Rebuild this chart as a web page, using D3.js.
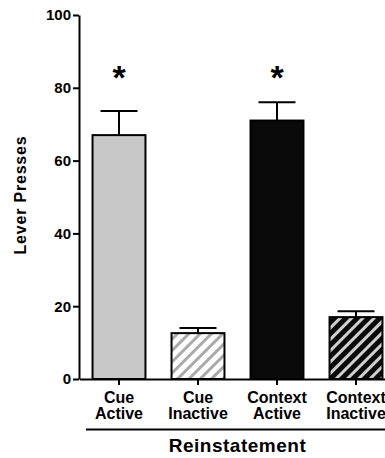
<!DOCTYPE html>
<html lang="en">
<head>
    <meta charset="UTF-8">
    <title>Reinstatement Lever Presses</title>
    <script src="https://cdnjs.cloudflare.com/ajax/libs/d3/7.8.5/d3.min.js"></script>
    <style>
        body {
            margin: 0;
            background: white;
            font-family: 'Liberation Sans', Arial, sans-serif;
        }
        .axis path, .axis line {
            stroke: black;
            stroke-width: 2;
        }
        .axis text {
            font-size: 15px;
            font-weight: bold;
            fill: black;
        }
        .bar {
            stroke: black;
            stroke-width: 2;
        }
        .err {
            stroke: black;
            stroke-width: 2;
        }
        .label {
            font-weight: bold;
            fill: black;
        }
    </style>
</head>
<body>
    <div id="chart"></div>

    <script>
        // Values
        const categories = ["Cue Active", "Cue Inactive", "Context Active", "Context Inactive"];
        const means = [67.0, 12.6, 71.0, 17.0];
        const sems = [6.6, 1.4, 5.0, 1.6];
        const significant = [true, false, true, false];
        const yTicks = [0, 20, 40, 60, 80, 100];
        const fills = ["#c8c8c8", "url(#hatchLight)", "#0a0a0a", "url(#hatchDark)"];

        const W = 385, H = 458;
        const svg = d3.select("#chart").append("svg")
            .attr("width", W)
            .attr("height", H);

        // hatch patterns
        const defs = svg.append("defs");
        function hatch(id, bg, fg) {
            const p = defs.append("pattern")
                .attr("id", id)
                .attr("patternUnits", "userSpaceOnUse")
                .attr("width", 8)
                .attr("height", 8)
                .attr("patternTransform", "rotate(45)");
            p.append("rect").attr("width", 8).attr("height", 8).attr("fill", bg);
            p.append("rect").attr("x", 0).attr("width", 3).attr("height", 8).attr("fill", fg);
        }
        hatch("hatchLight", "white", "#aaaaaa");
        hatch("hatchDark", "#0a0a0a", "#d0d0d0");

        const y = d3.scaleLinear().domain([0, 100]).range([379, 15]);
        const x = d3.scaleBand()
            .domain(categories)
            .range([79.5, 395.5])
            .paddingInner(0.33)
            .paddingOuter(0.165);

        // bars
        svg.selectAll(".bar")
            .data(categories)
            .enter()
            .append("rect")
            .attr("class", "bar")
            .attr("x", d => x(d))
            .attr("y", (d, i) => y(means[i]))
            .attr("width", x.bandwidth())
            .attr("height", (d, i) => y(0) - y(means[i]))
            .attr("fill", (d, i) => fills[i]);

        // error bars (upper only)
        categories.forEach((c, i) => {
            const cx = x(c) + x.bandwidth() / 2;
            svg.append("line").attr("class", "err")
                .attr("x1", cx).attr("x2", cx)
                .attr("y1", y(means[i])).attr("y2", y(means[i] + sems[i]));
            svg.append("line").attr("class", "err")
                .attr("x1", cx - 18.5).attr("x2", cx + 18.5)
                .attr("y1", y(means[i] + sems[i])).attr("y2", y(means[i] + sems[i]));
            if (significant[i]) {
                svg.append("text")
                    .attr("class", "label")
                    .attr("x", cx)
                    .attr("y", y(85) + 19)
                    .attr("text-anchor", "middle")
                    .style("font-size", "34px")
                    .text("*");
            }
        });

        // y axis
        svg.append("g")
            .attr("class", "axis")
            .attr("transform", "translate(79,0)")
            .call(d3.axisLeft(y).tickValues(yTicks).tickSize(6).tickSizeOuter(0).tickPadding(2));

        // x axis
        svg.append("g")
            .attr("class", "axis")
            .attr("transform", `translate(0,${y(0)})`)
            .call(d3.axisBottom(x).tickSize(6).tickSizeOuter(0).tickFormat(""));

        // category labels, two lines each
        categories.forEach(c => {
            const t = svg.append("text")
                .attr("class", "label")
                .attr("text-anchor", "middle")
                .style("font-size", "16px");
            c.split(" ").forEach((w, k) => {
                t.append("tspan")
                    .attr("x", x(c) + x.bandwidth() / 2)
                    .attr("y", 402.5 + k * 16.5)
                    .text(w);
            });
        });

        // group line and title
        svg.append("line")
            .attr("x1", 86).attr("x2", W)
            .attr("y1", 429.5).attr("y2", 429.5)
            .attr("stroke", "black")
            .attr("stroke-width", 2);

        svg.append("text")
            .attr("class", "label")
            .attr("x", 237.5)
            .attr("y", 452)
            .attr("text-anchor", "middle")
            .style("font-size", "19px")
            .style("letter-spacing", "0.5px")
            .text("Reinstatement");

        // y label
        svg.append("text")
            .attr("class", "label")
            .attr("transform", "translate(26,195) rotate(-90)")
            .attr("text-anchor", "middle")
            .style("font-size", "16px")
            .style("letter-spacing", "0.8px")
            .text("Lever  Presses");
    </script>
</body>
</html>
